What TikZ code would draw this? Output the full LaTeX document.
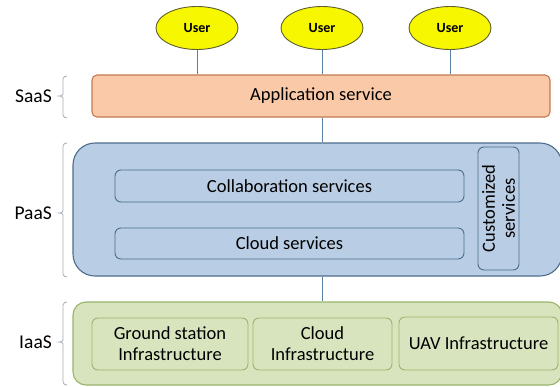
\documentclass[tikz,border=0pt]{standalone}
\usepackage{fontspec}
\setmainfont{Carlito}
\usetikzlibrary{shapes.geometric}
\definecolor{userfill}{HTML}{F7F700}
\definecolor{userdraw}{HTML}{5E5E30}
\definecolor{appfill}{HTML}{FAC9A8}
\definecolor{appdraw}{HTML}{C27A52}
\definecolor{paasfill}{HTML}{B9CDE4}
\definecolor{paasdraw}{HTML}{4D6D8D}
\definecolor{iaasfill}{HTML}{D8E4BD}
\definecolor{iaasdraw}{HTML}{9AB46C}
\definecolor{linkcol}{HTML}{5B80A8}
\definecolor{bracecol}{HTML}{A3ABB6}
\tikzset{
  userbox/.style={ellipse, draw=userdraw, fill=userfill, line width=0.9pt,
    minimum width=82pt, minimum height=43pt, inner sep=0pt,
    font=\fontsize{14}{16}\selectfont\bfseries},
  layerbox/.style={rectangle, inner sep=0pt, line width=1.1pt},
  innerbox/.style={rectangle, rounded corners=6pt, inner sep=0pt, line width=0.9pt,
    font=\fontsize{18.5}{20}\selectfont, align=center},
  link/.style={draw=linkcol, line width=1pt},
  brace/.style={draw=bracecol, line width=0.8pt},
  layerlabel/.style={anchor=east, inner sep=0pt, font=\fontsize{19.5}{22}\selectfont}
}
\begin{document}
\begin{tikzpicture}[x=1pt,y=-1pt]
\useasboundingbox (0,0) rectangle (560,386);
\clip (0,0) rectangle (560,386);
% users
\node[userbox] (u1) at (197,28) {User};
\node[userbox] (u2) at (322,28) {User};
\node[userbox] (u3) at (450,28) {User};
% SaaS
\node[layerbox, draw=appdraw, fill=appfill, rounded corners=5pt,
  minimum width=458pt, minimum height=42pt,
  font=\fontsize{18.5}{20}\selectfont] (app) at (321,96) {Application service};
% PaaS
\node[layerbox, draw=paasdraw, fill=paasfill, rounded corners=22pt,
  minimum width=489pt, minimum height=133pt] (paas) at (317.5,209.5) {};
\node[innerbox, draw=paasdraw, fill=paasfill, minimum width=349pt, minimum height=32pt]
  (collab) at (289.5,186) {Collaboration services};
\node[innerbox, draw=paasdraw, fill=paasfill, minimum width=349pt, minimum height=31pt]
  (csvc) at (289.5,243.5) {Cloud services};
\node[innerbox, draw=paasdraw, fill=paasfill, minimum width=41pt, minimum height=123pt]
  (custom) at (498.5,208.5) {};
\node[rotate=90, align=center, inner sep=0pt, font=\fontsize{18.5}{20}\selectfont]
  (customtxt) at (custom.center) {Customized\\services};
% IaaS
\node[layerbox, draw=iaasdraw, fill=iaasfill, rounded corners=13pt,
  minimum width=489pt, minimum height=83pt] (iaas) at (317.5,343.5) {};
\node[innerbox, draw=iaasdraw, fill=iaasfill, minimum width=156pt, minimum height=52pt]
  (ground) at (170,344) {Ground station\\[1pt]Infrastructure};
\node[innerbox, draw=iaasdraw, fill=iaasfill, minimum width=139pt, minimum height=52pt]
  (cinf) at (322.5,344) {Cloud\\[1pt]Infrastructure};
\node[innerbox, draw=iaasdraw, fill=iaasfill, minimum width=159pt, minimum height=53pt]
  (uav) at (478.5,343.5) {UAV Infrastructure};
% connectors
\draw[link] (u1.south) -- (u1.south |- app.north);
\draw[link] (u2.south) -- (u2.south |- app.north);
\draw[link] (u3.south) -- (u3.south |- app.north);
\coordinate (mid) at (322,0);
\draw[link] (mid |- app.south) -- (mid |- paas.north);
\draw[link] (mid |- paas.south) -- (mid |- iaas.north);
% labels
\node[layerlabel] (saas) at (52,96) {SaaS};
\node[layerlabel] (paasl) at (52,213) {PaaS};
\node[layerlabel] (iaasl) at (52,342) {IaaS};
% braces
\draw[brace] (67,76) to[out=180,in=90] (63,79) -- (63,94) to[out=-90,in=0] (59,96)
  to[out=0,in=90] (63,98) -- (63,115) to[out=-90,in=180] (67,118);
\draw[brace] (67,143) to[out=180,in=90] (63,146) -- (63,211) to[out=-90,in=0] (59,213)
  to[out=0,in=90] (63,215) -- (63,274) to[out=-90,in=180] (67,277);
\draw[brace] (67,302) to[out=180,in=90] (63,305) -- (63,340) to[out=-90,in=0] (59,342)
  to[out=0,in=90] (63,344) -- (63,382) to[out=-90,in=180] (67,385);
\end{tikzpicture}
\end{document}
